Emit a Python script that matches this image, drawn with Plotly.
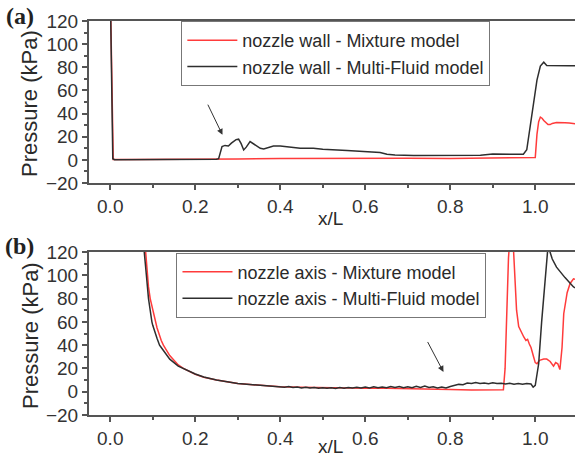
import plotly.graph_objects as go

# ---- (a) nozzle wall pressure ----
wall_mix_x = [0.0, 0.007, 0.05, 0.1, 0.2, 0.3, 0.4, 0.5, 0.6, 0.7, 0.8, 0.9, 0.995,
              1.0, 1.004, 1.008, 1.012, 1.016, 1.02, 1.025, 1.03, 1.035, 1.04, 1.05,
              1.06, 1.07, 1.08, 1.09, 1.1]
wall_mix_y = [150, 0.4, 0.3, 0.3, 0.5, 0.8, 1.2, 1.4, 1.5, 1.3, 1.2, 1.3, 1.4,
              2.0, 22, 33, 37, 36, 34, 32, 30.5, 30.5, 31.5, 32.2,
              32.3, 32.0, 31.8, 31.3, 31.0]

wall_mf_x = [0.0, 0.006, 0.01, 0.05, 0.1, 0.15, 0.2, 0.25, 0.255, 0.263, 0.27, 0.278,
             0.285, 0.29, 0.296, 0.302, 0.308, 0.314, 0.32, 0.329, 0.337, 0.345,
             0.353, 0.361, 0.372, 0.384, 0.4, 0.416, 0.447, 0.478, 0.5, 0.557,
             0.6, 0.635, 0.651, 0.67, 0.714, 0.75, 0.792, 0.83, 0.871, 0.9, 0.93,
             0.972, 0.98, 0.988, 0.996, 1.004, 1.012, 1.02, 1.027, 1.04, 1.06,
             1.08, 1.1]
wall_mf_y = [150, 1.0, 0.2, 0.2, 0.3, 0.3, 0.4, 0.5, 1.0, 11.5, 12.5, 12.0,
             14.5, 15.8, 17.5, 17.9, 14.0, 8.6, 11.0, 15.8, 14.0, 11.5,
             10.0, 9.5, 11.0, 12.0, 12.0, 11.5, 10.0, 10.0, 9.2, 8.0,
             7.2, 6.3, 4.9, 4.3, 3.7, 3.9, 3.5, 3.8, 4.0, 5.0, 4.8,
             4.9, 8.7, 29, 52, 69, 81, 84.4, 81.5, 81.3, 81.3,
             81.3, 81.3]

# ---- (b) nozzle axis pressure ----
axis_mix_x = [0.08, 0.083, 0.09, 0.094, 0.1, 0.106, 0.11, 0.12, 0.125, 0.14, 0.16,
              0.172, 0.18, 0.2, 0.22, 0.25, 0.3, 0.35, 0.4, 0.45, 0.5, 0.55, 0.6,
              0.65, 0.7, 0.75, 0.8, 0.85, 0.9, 0.925, 0.929, 0.933, 0.937, 0.94,
              0.944, 0.948, 0.952, 0.956, 0.961, 0.966, 0.973, 0.978, 0.982,
              0.986, 0.99, 0.996, 1.0, 1.004, 1.01, 1.02, 1.027, 1.035, 1.043,
              1.048, 1.053, 1.058, 1.063, 1.067, 1.075, 1.082, 1.09, 1.1]
axis_mix_y = [135, 120, 90, 80, 70, 60, 55, 44, 40, 31, 23,
              20, 18.5, 15, 12.5, 10, 7, 5.5, 4.3, 3.8, 3.4, 3.2, 3.0,
              3.0, 2.8, 2.5, 2.0, 1.5, 1.3, 1.6, 20, 70, 115, 130,
              132, 128, 100, 70, 56, 52, 47, 44, 45,
              41, 38, 30, 25, 24, 27, 28, 28, 26, 22,
              25, 24, 19, 38, 67, 85, 93, 97, 96]

axis_mf_x = [0.078, 0.08, 0.085, 0.09, 0.098, 0.1, 0.11, 0.116, 0.12, 0.14, 0.16,
             0.172, 0.18, 0.2, 0.22, 0.25, 0.3, 0.35,
             0.40, 0.41, 0.42, 0.43, 0.44, 0.45, 0.46, 0.47, 0.48, 0.49,
             0.50, 0.51, 0.52, 0.53, 0.54, 0.55, 0.56, 0.57, 0.58, 0.59,
             0.60, 0.61, 0.62, 0.63, 0.64, 0.65, 0.66, 0.67, 0.68, 0.69,
             0.70, 0.71, 0.72, 0.73, 0.74, 0.75, 0.76, 0.77, 0.78, 0.79,
             0.80, 0.81, 0.82, 0.83, 0.84, 0.85, 0.86, 0.87, 0.88, 0.89,
             0.90, 0.91, 0.92, 0.93, 0.94, 0.95, 0.96, 0.97, 0.98, 0.99,
             0.995, 1.0, 1.008, 1.015, 1.02, 1.025, 1.03, 1.033, 1.04,
             1.05, 1.06, 1.07, 1.08, 1.09, 1.1]
axis_mf_y = [135, 120, 100, 80, 60, 57, 46, 40, 38, 28, 22,
             20, 18.5, 15.2, 12.6, 10.1, 7.1, 5.6,
             4.3, 3.9, 4.4, 3.6, 4.0, 3.3, 3.8, 3.1, 3.6, 3.0,
             3.5, 2.9, 3.4, 2.8, 3.6, 3.0, 3.7, 3.1, 3.9, 3.2,
             4.0, 3.3, 4.2, 3.4, 4.1, 3.5, 4.4, 3.6, 4.5, 3.5,
             4.3, 3.4, 4.6, 3.7, 4.8, 3.6, 4.2, 3.3, 4.0, 3.2,
             4.5, 5.2, 6.3, 6.0, 7.4, 7.0, 7.8, 7.1, 7.5, 6.9,
             7.6, 7.0, 7.3, 6.6, 7.2, 6.5, 7.0, 6.4, 7.1, 6.6,
             4.0, 5.5, 24, 60, 81, 105, 125, 122, 114,
             107, 102, 98, 94, 90, 88]

# arrows marking the onset region: (tail x, tail y, head x, head y)
arrow_a = (0.228, 49, 0.264, 21.6)
arrow_b = (0.745, 44, 0.784, 17)

x_ticks = [0.0, 0.2, 0.4, 0.6, 0.8, 1.0]
x_ticklabels = ["0.0", "0.2", "0.4", "0.6", "0.8", "1.0"]
y_ticks = [-20, 0, 20, 40, 60, 80, 100, 120]

RED = "#ff3b3b"
BLACK = "#2e2e2e"
AXIS = "#555555"
FONT = "Arial, Liberation Sans, sans-serif"

fig = go.Figure()

fig.add_trace(go.Scatter(x=wall_mix_x, y=wall_mix_y, mode="lines",
                         line=dict(color=RED, width=1.5),
                         name="nozzle wall - Mixture model",
                         xaxis="x", yaxis="y", legend="legend"))
fig.add_trace(go.Scatter(x=wall_mf_x, y=wall_mf_y, mode="lines",
                         line=dict(color=BLACK, width=1.5),
                         name="nozzle wall - Multi-Fluid model",
                         xaxis="x", yaxis="y", legend="legend"))
fig.add_trace(go.Scatter(x=axis_mix_x, y=axis_mix_y, mode="lines",
                         line=dict(color=RED, width=1.5),
                         name="nozzle axis - Mixture model",
                         xaxis="x2", yaxis="y2", legend="legend2"))
fig.add_trace(go.Scatter(x=axis_mf_x, y=axis_mf_y, mode="lines",
                         line=dict(color=BLACK, width=1.5),
                         name="nozzle axis - Multi-Fluid model",
                         xaxis="x2", yaxis="y2", legend="legend2"))

xrange = [-0.05, 1.0935]

def xaxis_cfg(anchor):
    return dict(range=xrange, anchor=anchor, domain=[0, 1],
                tickvals=x_ticks, ticktext=x_ticklabels,
                ticks="outside", ticklen=5, tickwidth=1.5, tickcolor=AXIS,
                minor=dict(dtick=0.1, tick0=0, ticks="outside", ticklen=3,
                           tickwidth=1.5, tickcolor=AXIS),
                showline=True, linecolor=AXIS, linewidth=2, mirror=True,
                showgrid=False, zeroline=False,
                tickfont=dict(family=FONT, size=19, color="#333333"))

def yaxis_cfg(anchor, domain):
    return dict(range=[-20, 120], anchor=anchor, domain=domain,
                tickvals=y_ticks, ticks="outside", ticklen=5, tickwidth=1.5,
                tickcolor=AXIS,
                minor=dict(dtick=10, tick0=0, ticks="outside", ticklen=3,
                           tickwidth=1.5, tickcolor=AXIS),
                showline=True, linecolor=AXIS, linewidth=2, mirror=False,
                showgrid=False, zeroline=False,
                tickfont=dict(family=FONT, size=19, color="#333333"))

legend_common = dict(bgcolor="white", bordercolor="#777777", borderwidth=1,
                     font=dict(family=FONT, size=18, color="#2a2a2a"),
                     xanchor="left", yanchor="top", tracegroupgap=0,
                     itemwidth=50)

fig.update_layout(
    width=575, height=469,
    margin=dict(l=89, r=0, t=21, b=54),
    paper_bgcolor="white", plot_bgcolor="white",
    showlegend=True,
    xaxis=xaxis_cfg("y"),
    yaxis=yaxis_cfg("x", [0.5888, 1.0]),
    xaxis2=xaxis_cfg("y2"),
    yaxis2=yaxis_cfg("x2", [0.0, 0.4137]),
    legend=dict(x=0.19, y=1.0, **legend_common),
    legend2=dict(x=0.18, y=0.412, **legend_common),
)

annotations = []
for (tx, ty, hx, hy), xr, yr in [(arrow_a, "x", "y"), (arrow_b, "x2", "y2")]:
    annotations.append(dict(x=hx, y=hy, ax=tx, ay=ty, xref=xr, yref=yr,
                            axref=xr, ayref=yr, showarrow=True, text="",
                            arrowhead=2, arrowsize=1.2, arrowwidth=1,
                            arrowcolor="#333333"))

for ypos in [0.792, 0.203]:
    annotations.append(dict(text="Pressure (kPa)", x=-0.1214, y=ypos,
                            xref="paper", yref="paper", showarrow=False,
                            textangle=-90, xanchor="center", yanchor="middle",
                            font=dict(family=FONT, size=22, color="#2a2a2a")))

for ypos in [0.5, -0.081]:
    annotations.append(dict(text="x/L", x=0.496, y=ypos, xref="paper",
                            yref="paper", showarrow=False, xanchor="center",
                            yanchor="middle",
                            font=dict(family=FONT, size=19, color="#2a2a2a")))

for lbl, ypos in [("(a)", 1.0127), ("(b)", 0.429)]:
    annotations.append(dict(text="<b>" + lbl + "</b>", x=-0.142, y=ypos,
                            xref="paper", yref="paper", showarrow=False,
                            xanchor="center", yanchor="middle",
                            font=dict(family="Liberation Serif, Times New Roman, serif",
                                      size=24, color="#222222")))

fig.update_layout(annotations=annotations)

fig.write_html("out.html")
